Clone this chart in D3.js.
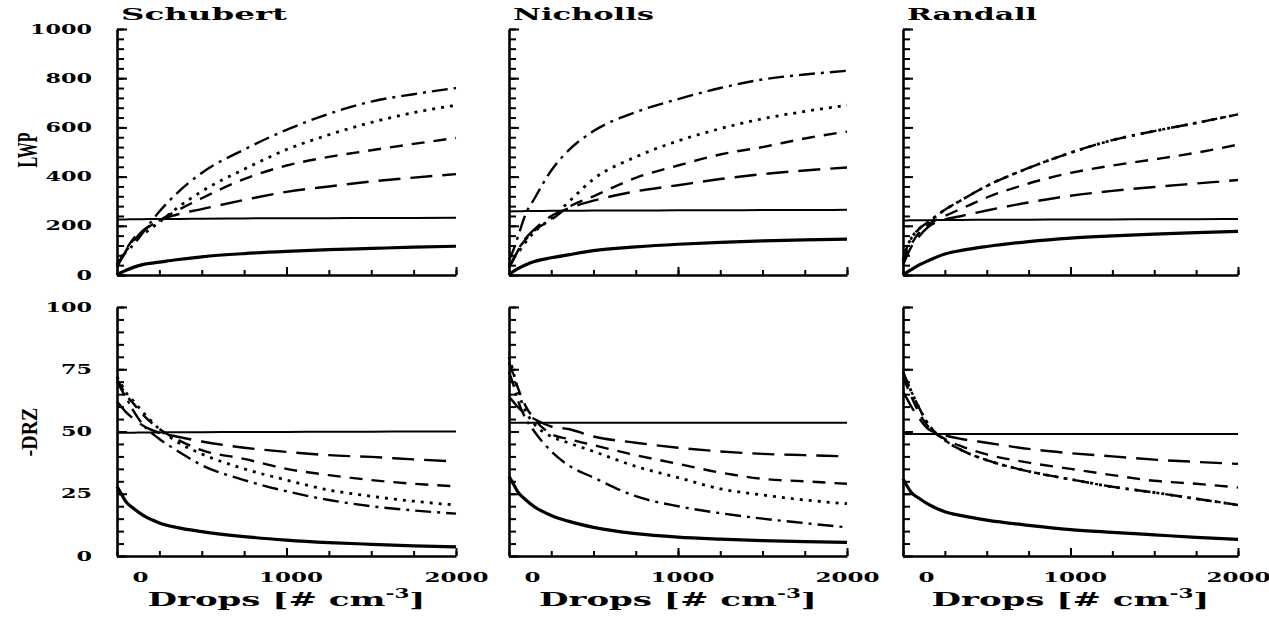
<!DOCTYPE html>
<html>
<head>
<meta charset="utf-8">
<script src="https://cdn.jsdelivr.net/npm/d3@7"></script>
<style>
  body { margin: 0; background: #fff; }
  svg { display: block; }
</style>
</head>
<body>
<svg id="chart"></svg>
<script>
// svg size
const width = 1269;
const height = 619;

// panels
const models = ["Schubert", "Nicholls", "Randall"];
const quantities = ["LWP", "-DRZ"];

// drop numbers
const drops = [0, 25, 50, 100, 150, 250, 350, 500, 750, 1000, 1250, 1500, 1750, 2000];

// order of curves in each panel
const seriesNames = ["thick", "ref", "longDash", "dash", "dot", "dashDot"];

// LWP, one row per curve
const schubertLWP = [
    [0, 10, 18, 32, 42, 52, 62, 74, 87, 96, 103, 108, 113, 117],
    [226, 226, 226, 227, 227, 228, 228, 229, 230, 231, 231, 232, 232, 233],
    [30, 65, 95, 140, 178, 222, 245, 268, 305, 338, 360, 380, 396, 410],
    [35, 70, 100, 150, 178, 222, 260, 312, 390, 445, 480, 507, 533, 557],
    [40, 70, 95, 145, 165, 215, 270, 340, 430, 510, 570, 620, 660, 690],
    [40, 65, 90, 125, 170, 258, 330, 415, 510, 590, 655, 705, 735, 760]
];
const nichollsLWP = [
    [0, 14, 25, 42, 55, 70, 82, 99, 114, 125, 133, 139, 143, 146],
    [258, 259, 259, 260, 260, 261, 261, 262, 262, 263, 263, 264, 264, 265],
    [30, 60, 95, 150, 185, 240, 270, 302, 340, 365, 390, 410, 425, 437],
    [35, 65, 100, 145, 180, 225, 275, 320, 395, 445, 490, 520, 555, 583],
    [40, 70, 88, 135, 175, 230, 295, 390, 480, 545, 595, 635, 665, 690],
    [60, 100, 150, 250, 310, 425, 505, 585, 662, 715, 760, 795, 815, 830]
];
const randallLWP = [
    [0, 12, 22, 42, 58, 85, 100, 116, 136, 150, 159, 166, 172, 177],
    [222, 222, 223, 223, 223, 224, 224, 225, 225, 226, 226, 227, 227, 228],
    [40, 80, 115, 160, 195, 225, 240, 262, 295, 322, 342, 358, 372, 386],
    [50, 90, 125, 175, 205, 240, 270, 315, 372, 415, 445, 470, 497, 530],
    [60, 115, 150, 190, 215, 265, 305, 362, 435, 497, 548, 585, 618, 653],
    [60, 115, 150, 190, 215, 265, 305, 362, 435, 497, 548, 585, 618, 653]
];

// -DRZ, one row per curve
const schubertDRZ = [
    [28, 25, 22, 19, 16.5, 13.3, 11.5, 9.8, 7.8, 6.4, 5.4, 4.7, 4.1, 3.7],
    [49.5, 49.5, 49.5, 49.5, 49.6, 49.6, 49.7, 49.7, 49.8, 49.8, 49.9, 49.9, 50, 50],
    [62, 60, 58, 55, 52.5, 49.5, 48, 46, 43.5, 41.8, 40.5, 39.8, 38.8, 38],
    [71, 68, 65, 61, 57, 51, 47, 42.5, 39, 35, 32.5, 30.5, 29, 28],
    [72, 69, 66, 62, 58, 51, 46, 41, 35, 30.5, 26.5, 24, 22, 20.5],
    [70, 67, 64, 58, 53, 47, 42.5, 36.5, 30.5, 26, 22.5, 20, 18.3, 17]
];
const nichollsDRZ = [
    [32, 29, 26, 22.5, 19.8, 16.3, 14, 11.5, 9, 7.6, 6.8, 6.2, 5.8, 5.5],
    [53.5, 53.5, 53.5, 53.5, 53.5, 53.5, 53.5, 53.5, 53.5, 53.5, 53.5, 53.5, 53.5, 53.5],
    [64, 62, 60, 57, 55, 52, 51, 48, 45.5, 43.5, 42, 41, 40.5, 40],
    [78, 73, 68, 60, 55, 49, 47, 44.5, 40.5, 37, 33.5, 31, 30, 29],
    [80, 74, 67, 58, 53, 48, 45.5, 42, 36, 31.5, 27, 24.5, 22.5, 21],
    [74, 69, 63, 55, 50, 42, 36.5, 31.5, 24, 20, 17.2, 15, 13.2, 11.5]
];
const randallDRZ = [
    [31, 28, 25.5, 23, 20.8, 17.8, 16.2, 14.4, 12.3, 10.6, 9.5, 8.5, 7.5, 6.7],
    [49, 49, 49, 49, 49, 49, 49, 49, 49, 49, 49, 49, 49, 49],
    [66, 63, 60, 55, 51, 48.5, 47, 45.5, 43, 41.3, 40, 38.7, 37.8, 37],
    [72, 68, 64, 57, 52, 47, 44, 40.8, 37.5, 35, 32.5, 30.2, 29, 27.5],
    [74, 70, 66, 59, 53, 46.5, 42.5, 38.5, 34, 30.8, 27.8, 25.5, 23, 20.5],
    [74, 70, 66, 59, 53, 46.5, 42.5, 38.5, 34, 30.8, 27.8, 25.5, 23, 20.5]
];

// y axis ticks
const lwpLabels = [0, 200, 400, 600, 800, 1000];
const drzLabels = [0, 25, 50, 75, 100];
const dropLabels = [0, 1000, 2000];

const panelData = [
    [schubertLWP, nichollsLWP, randallLWP],
    [schubertDRZ, nichollsDRZ, randallDRZ]
];

// layout
const cols = [[117, 456], [509, 847], [903, 1238]];
const rows = [[275, 29], [556, 307]];
const yDomains = [[0, 1000], [0, 100]];
const yMinorStep = [40, 5];
const yLabelSets = [lwpLabels, drzLabels];

// line look per curve
const lineStyle = {
    thick:    { w: 3.2, dash: null },
    ref:      { w: 2.0, dash: null },
    longDash: { w: 2.4, dash: "22,10" },
    dash:     { w: 2.4, dash: "13,9" },
    dot:      { w: 2.8, dash: "3,6" },
    dashDot:  { w: 2.4, dash: "16,6,3,6" }
};

const slabFont = "'DejaVu Serif', 'Liberation Serif', serif";
const serifFont = "'Liberation Serif', 'DejaVu Serif', serif";

const svg = d3.select("#chart")
    .attr("width", width)
    .attr("height", height);

svg.append("rect").attr("width", width).attr("height", height).attr("fill", "#fff");

rows.forEach((row, ri) => {
    cols.forEach((col, ci) => {
        const x = d3.scaleLinear().domain([0, 2000]).range(col);
        const y = d3.scaleLinear().domain(yDomains[ri]).range(row);
        const g = svg.append("g");

        // minor x ticks (pointing up into the plot)
        g.append("g")
            .attr("transform", `translate(0,${row[0]})`)
            .call(d3.axisBottom(x).tickValues(d3.range(0, 2001, 250)).tickSizeInner(-5).tickSizeOuter(0).tickFormat(""))
            .call(a => a.select(".domain").attr("stroke-width", 2.6))
            .call(a => a.selectAll(".tick line").attr("stroke-width", 2));

        // major x ticks
        g.append("g")
            .attr("transform", `translate(0,${row[0]})`)
            .call(d3.axisBottom(x).tickValues([1000, 2000]).tickSizeInner(-8).tickSizeOuter(0).tickFormat(""))
            .call(a => a.select(".domain").remove())
            .call(a => a.selectAll(".tick line").attr("stroke-width", 2));

        // minor y ticks (pointing right)
        const yd = yDomains[ri];
        g.append("g")
            .attr("transform", `translate(${col[0]},0)`)
            .call(d3.axisLeft(y).tickValues(d3.range(yd[0], yd[1] + 0.1, yMinorStep[ri])).tickSizeInner(-7).tickSizeOuter(0).tickFormat(""))
            .call(a => a.select(".domain").attr("stroke-width", 2.6))
            .call(a => a.selectAll(".tick line").attr("stroke-width", 2));

        // major y ticks, labels only on the first column
        const yMajor = g.append("g")
            .attr("transform", `translate(${col[0]},0)`)
            .call(d3.axisLeft(y).tickValues(yLabelSets[ri]).tickSizeInner(-10).tickSizeOuter(0).tickPadding(25)
                .tickFormat(ci === 0 ? d3.format("d") : ""))
            .call(a => a.select(".domain").remove())
            .call(a => a.selectAll(".tick line").attr("stroke-width", 2));
        yMajor.selectAll("text")
            .attr("font-family", slabFont)
            .attr("font-weight", "bold")
            .attr("font-size", 13)
            .attr("fill", "#000")
            .attr("textLength", d => String(d).length * 15.5)
            .attr("lengthAdjust", "spacingAndGlyphs");

        // x labels on the bottom row
        if (ri === 1) {
            const xl = g.append("g")
                .attr("transform", `translate(0,${row[0]})`)
                .call(d3.axisBottom(x).tickValues(dropLabels).tickSize(0).tickPadding(17).tickFormat(d3.format("d")))
                .call(a => a.select(".domain").remove());
            xl.selectAll("text")
                .attr("dx", d => d === 0 ? 23 : (d === 1000 ? 4 : 0))
                .attr("font-family", slabFont)
                .attr("font-weight", "bold")
                .attr("font-size", 13)
                .attr("fill", "#000")
                .attr("textLength", d => String(d).length * 16)
                .attr("lengthAdjust", "spacingAndGlyphs");

            const xt = g.append("text")
                .attr("x", (col[0] + col[1]) / 2)
                .attr("y", 606)
                .attr("text-anchor", "middle")
                .attr("font-family", slabFont)
                .attr("font-weight", "bold")
                .attr("font-size", 19)
                .attr("textLength", 278)
                .attr("lengthAdjust", "spacingAndGlyphs");
            xt.append("tspan").text("Drops [# cm");
            xt.append("tspan").attr("dy", -8).attr("font-size", 12).text("-3");
            xt.append("tspan").attr("dy", 8).text("]");
        }

        // model title on the top row
        if (ri === 0) {
            g.append("text")
                .attr("x", col[0] + 4)
                .attr("y", 20)
                .attr("font-family", slabFont)
                .attr("font-weight", "bold")
                .attr("font-size", 16)
                .attr("textLength", [166, 141, 130][ci])
                .attr("lengthAdjust", "spacingAndGlyphs")
                .text(models[ci]);
        }

        // curves
        const line = d3.line()
            .x((d, i) => x(drops[i]))
            .y(d => y(d))
            .curve(d3.curveMonotoneX);

        g.selectAll("path.curve")
            .data(panelData[ri][ci])
            .enter()
            .append("path")
            .attr("class", "curve")
            .attr("d", line)
            .attr("fill", "none")
            .attr("stroke", "#000")
            .attr("stroke-width", (d, i) => lineStyle[seriesNames[i]].w)
            .attr("stroke-dasharray", (d, i) => lineStyle[seriesNames[i]].dash);
    });
});

// y axis titles, rotated
const yTitlePos = [[37, 150, 30, 35], [37, 432, 23, 49]];
quantities.forEach((q, i) => {
    const p = yTitlePos[i];
    svg.append("text")
        .attr("transform", `translate(${p[0]},${p[1]}) rotate(-90)`)
        .attr("text-anchor", "middle")
        .attr("font-family", serifFont)
        .attr("font-weight", "bold")
        .attr("font-size", p[2])
        .attr("textLength", p[3])
        .attr("lengthAdjust", "spacingAndGlyphs")
        .text(q);
});
</script>
</body>
</html>
